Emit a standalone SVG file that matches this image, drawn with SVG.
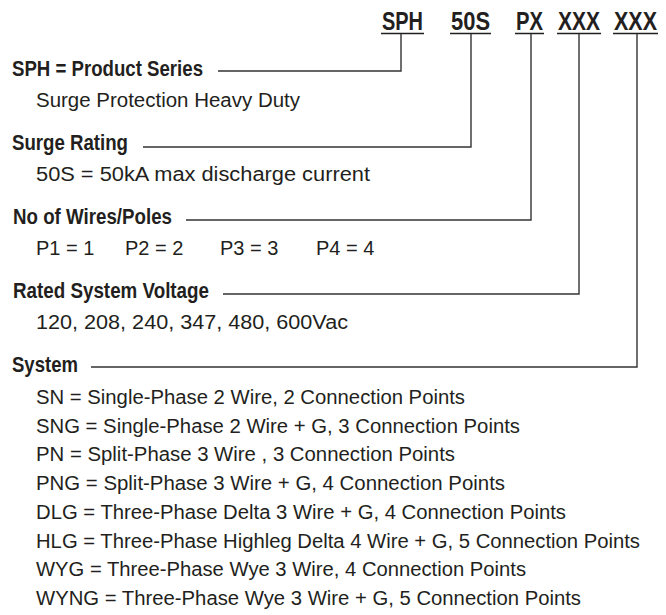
<svg xmlns="http://www.w3.org/2000/svg" width="666" height="615" viewBox="0 0 666 615">
<style>
.code{font-family:"Liberation Sans",Arial,sans-serif;font-weight:bold;font-size:25px;fill:#231f20}
.head{font-family:"Liberation Sans",Arial,sans-serif;font-weight:bold;font-size:22px;fill:#231f20}
.txt{font-family:"Liberation Sans",Arial,sans-serif;font-size:20px;fill:#231f20}
.ln{stroke:#333;stroke-width:1.4;fill:none}
.ul{stroke:#231f20;stroke-width:1.6;fill:none}
</style>
<rect width="666" height="615" fill="#fff"/>
<g id="codes">
<text class="code" x="382" y="30" textLength="41" lengthAdjust="spacingAndGlyphs">SPH</text>
<text class="code" x="451" y="30" textLength="39" lengthAdjust="spacingAndGlyphs">50S</text>
<text class="code" x="516" y="30" textLength="27" lengthAdjust="spacingAndGlyphs">PX</text>
<text class="code" x="558" y="30" textLength="42" lengthAdjust="spacingAndGlyphs">XXX</text>
<text class="code" x="614" y="30" textLength="43" lengthAdjust="spacingAndGlyphs">XXX</text>
<path class="ul" d="M381 33.5H424M450 33.5H491M515 33.5H544M557 33.5H601M613 33.5H658"/>
</g>
<g id="connectors">
<path class="ln" d="M401 34V71H218"/>
<path class="ln" d="M471 34V147H143"/>
<path class="ln" d="M531 34V220H186"/>
<path class="ln" d="M579 34V294H223"/>
<path class="ln" d="M637 34V367H91"/>
</g>
<g id="series">
<text class="head" x="12" y="76" textLength="191" lengthAdjust="spacingAndGlyphs">SPH = Product Series</text>
<text class="txt" x="36" y="107" textLength="264" lengthAdjust="spacingAndGlyphs">Surge Protection Heavy Duty</text>
</g>
<g id="rating">
<text class="head" x="12" y="150" textLength="116" lengthAdjust="spacingAndGlyphs">Surge Rating</text>
<text class="txt" x="36" y="181" textLength="334" lengthAdjust="spacingAndGlyphs">50S = 50kA max discharge current</text>
</g>
<g id="poles">
<text class="head" x="13" y="224" textLength="159" lengthAdjust="spacingAndGlyphs">No of Wires/Poles</text>
<text class="txt" x="36" y="255">P1 = 1</text>
<text class="txt" x="125" y="255">P2 = 2</text>
<text class="txt" x="220" y="255">P3 = 3</text>
<text class="txt" x="316" y="255">P4 = 4</text>
</g>
<g id="voltage">
<text class="head" x="13" y="298" textLength="196" lengthAdjust="spacingAndGlyphs">Rated System Voltage</text>
<text class="txt" x="36" y="329" textLength="312" lengthAdjust="spacingAndGlyphs">120, 208, 240, 347, 480, 600Vac</text>
</g>
<g id="system">
<text class="head" x="12" y="372" textLength="66" lengthAdjust="spacingAndGlyphs">System</text>
<text class="txt" x="36" y="404" textLength="429" lengthAdjust="spacingAndGlyphs">SN = Single-Phase 2 Wire, 2 Connection Points</text>
<text class="txt" x="36" y="432.7" textLength="484" lengthAdjust="spacingAndGlyphs">SNG = Single-Phase 2 Wire + G, 3 Connection Points</text>
<text class="txt" x="36" y="461.4" textLength="419" lengthAdjust="spacingAndGlyphs">PN = Split-Phase 3 Wire , 3 Connection Points</text>
<text class="txt" x="36" y="490.1" textLength="469" lengthAdjust="spacingAndGlyphs">PNG = Split-Phase 3 Wire + G, 4 Connection Points</text>
<text class="txt" x="36" y="518.8" textLength="530" lengthAdjust="spacingAndGlyphs">DLG = Three-Phase Delta 3 Wire + G, 4 Connection Points</text>
<text class="txt" x="36" y="547.5" textLength="604" lengthAdjust="spacingAndGlyphs">HLG = Three-Phase Highleg Delta 4 Wire + G, 5 Connection Points</text>
<text class="txt" x="36" y="576.2" textLength="490" lengthAdjust="spacingAndGlyphs">WYG = Three-Phase Wye 3 Wire, 4 Connection Points</text>
<text class="txt" x="36" y="604.9" textLength="545" lengthAdjust="spacingAndGlyphs">WYNG = Three-Phase Wye 3 Wire + G, 5 Connection Points</text>
</g>
</svg>
